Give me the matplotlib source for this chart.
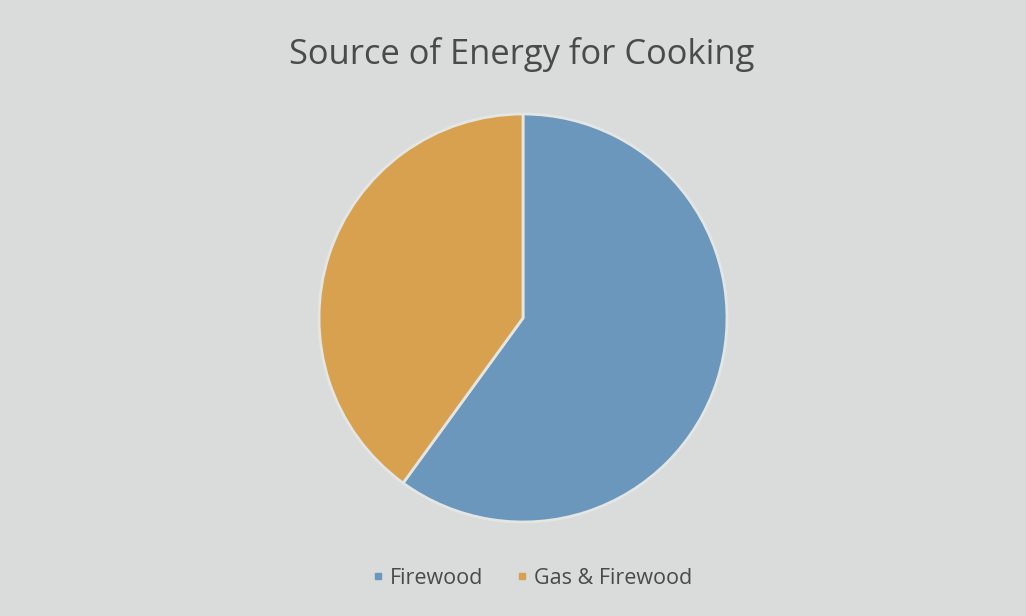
import matplotlib
matplotlib.use("Agg")
import matplotlib.pyplot as plt
from matplotlib.lines import Line2D

# chart data
labels = ["Firewood", "Gas & Firewood"]
shares = [60, 40]
slice_colors = ["#6b97bd", "#d8a150"]

background = "#d9dcda"
text_color = "#4a4a4a"

plt.rcParams['font.family'] = ['Open Sans', 'DejaVu Sans']

fig = plt.figure(figsize=(10.26, 6.16), dpi=100, facecolor=background)

# pie axes, centred around pixel (523, 318) with radius ~204 px
pie_ax = fig.add_axes([319 / 1026, 94 / 616, 408 / 1026, 408 / 616])
pie_ax.set_facecolor(background)
pie_ax.pie(shares, colors=slice_colors, startangle=90, counterclock=False,
           radius=1.0, wedgeprops=dict(edgecolor="#e4e6e4", linewidth=2))
pie_ax.set_xlim(-1, 1)
pie_ax.set_ylim(-1, 1)
pie_ax.set_aspect("equal")
pie_ax.axis("off")

# title
fig.text(522 / 1026, 1 - 55 / 616, "Source of Energy for Cooking",
         ha="center", va="center", fontsize=24.8, color=text_color)

# legend
handles = [Line2D([], [], marker="s", linestyle="none", markersize=5,
                  markerfacecolor=c, markeredgecolor=c) for c in slice_colors]
fig.legend(handles, labels, loc="center", bbox_to_anchor=(530 / 1026, 1 - 578 / 616),
           ncol=2, frameon=False, fontsize=15.5, labelcolor=text_color,
           handletextpad=0.05, columnspacing=1.3, handlelength=1.0)

fig.savefig("out.png", dpi=100, facecolor=background)
